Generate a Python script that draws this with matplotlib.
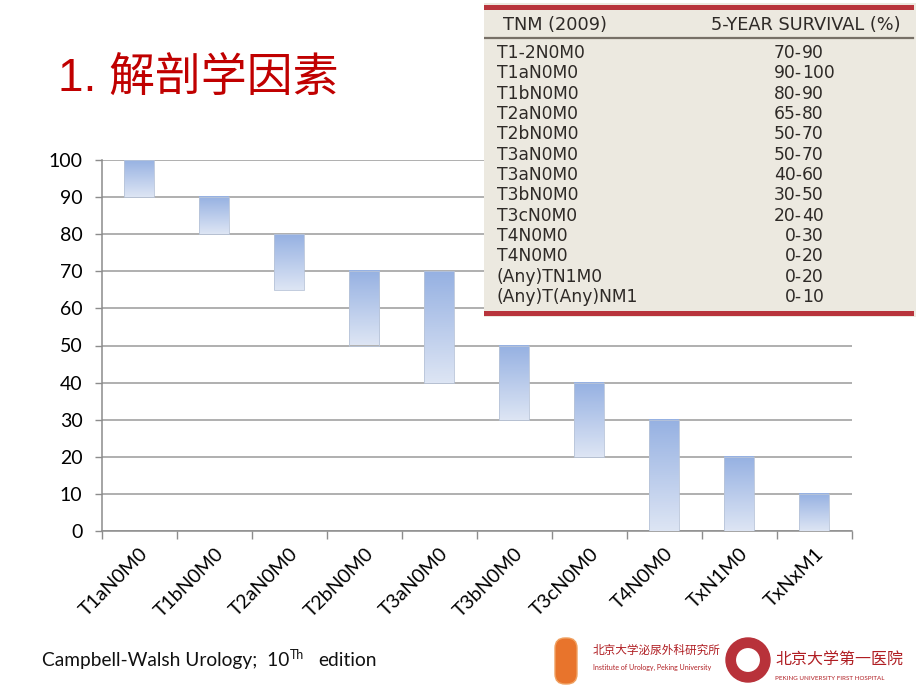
"""Slide: 1. 解剖学因素 -- floating 5-year survival ranges by TNM stage."""

import matplotlib

matplotlib.use("Agg")

import matplotlib.pyplot as plt
import numpy as np
from matplotlib.patches import Circle, FancyBboxPatch, Rectangle

plt.rcParams["font.family"] = ["Lato", "Noto Sans CJK SC", "DejaVu Sans"]

W, H = 920, 690

# chart data (5-year survival range, %)
stages = ["T1aN0M0", "T1bN0M0", "T2aN0M0", "T2bN0M0", "T3aN0M0",
          "T3bN0M0", "T3cN0M0", "T4N0M0", "TxN1M0", "TxNxM1"]
surv_low = [90, 80, 65, 50, 40, 30, 20, 0, 0, 0]
surv_high = [100, 90, 80, 70, 70, 50, 40, 30, 20, 10]
y_ticks = list(range(0, 101, 10))

# table data (Campbell-Walsh)
table_stage = ["T1-2N0M0", "T1aN0M0", "T1bN0M0", "T2aN0M0", "T2bN0M0",
               "T3aN0M0", "T3aN0M0", "T3bN0M0", "T3cN0M0", "T4N0M0",
               "T4N0M0", "(Any)TN1M0", "(Any)T(Any)NM1"]
table_surv = ["70-90", "90-100", "80-90", "65-80", "50-70", "50-70",
              "40-60", "30-50", "20-40", "0-30", "0-20", "0-20", "0-10"]


def px(x, y):
    """pixel (top-left origin) -> figure fraction"""
    return x / W, 1 - y / H


fig = plt.figure(figsize=(W / 100, H / 100), dpi=100)

# ---------------------------------------------------------------------------
# title
# ---------------------------------------------------------------------------
fig.text(*px(58, 79), "1. 解剖学因素", fontsize=33, color="#c00000",
         family=["Liberation Sans", "Noto Sans CJK SC"], va="center",
         ha="left")

# ---------------------------------------------------------------------------
# floating bar chart
# ---------------------------------------------------------------------------
ax = fig.add_axes([102 / W, 1 - 531 / H, 750 / W, 371 / H])
grad = np.linspace(0, 1, 64).reshape(-1, 1)
cmap = matplotlib.colors.LinearSegmentedColormap.from_list(
    "bar", ["#dde5f4", "#96b1e2"])
bar_w = 0.4
for i, (lo, hi) in enumerate(zip(surv_low, surv_high)):
    ax.imshow(grad, extent=[i - bar_w / 2, i + bar_w / 2, lo, hi],
              origin="lower", aspect="auto", cmap=cmap, zorder=3)
    ax.add_patch(Rectangle((i - bar_w / 2, lo), bar_w, hi - lo, fill=False,
                           ec="#b8c4d8", lw=0.6, zorder=4))

ax.set_xlim(-0.5, len(stages) - 0.5)
ax.set_ylim(0, 100)
ax.set_yticks(y_ticks)
ax.tick_params(axis="y", labelsize=14, length=5, color="#8c8c8c",
               width=1, pad=9)
ax.yaxis.grid(True, color="#9a9a9a", lw=1.1, zorder=1)
ax.set_axisbelow(True)

ax.set_xticks(np.arange(-0.5, len(stages)), minor=False)
ax.set_xticklabels([])
ax.set_xticks(np.arange(len(stages)), minor=True)
ax.set_xticklabels(stages, minor=True, rotation=45, ha="right",
                   rotation_mode="anchor", fontsize=14)
ax.tick_params(axis="x", which="major", length=6, color="#8c8c8c", width=1)
ax.tick_params(axis="x", which="minor", length=0, pad=10)

for side in ("top", "right"):
    ax.spines[side].set_visible(False)
ax.spines["left"].set_color("#8c8c8c")
ax.spines["bottom"].set_color("#8c8c8c")
ax.spines["left"].set_linewidth(1.1)
ax.spines["bottom"].set_linewidth(1.1)

# ---------------------------------------------------------------------------
# table image overlay (top right)
# ---------------------------------------------------------------------------
tx0, ty0, tx1, ty1 = 484, 3, 916, 317
tab = fig.add_axes([tx0 / W, 1 - ty1 / H, (tx1 - tx0) / W, (ty1 - ty0) / H],
                   zorder=5)
tab.set_xlim(tx0, tx1)
tab.set_ylim(ty1, ty0)
tab.axis("off")
tab.add_patch(Rectangle((tx0, ty0), tx1 - tx0, ty1 - ty0, fc="#ece9e0",
                        ec="none", zorder=0))
tab.add_patch(Rectangle((tx0, 5), 430, 5, fc="#b8343c", ec="none"))
tab.add_patch(Rectangle((tx0, 311), 430, 5, fc="#b8343c", ec="none"))
tab.plot([tx0, 913], [38, 38], color="#777067", lw=1.6)

tfont = dict(family=["DejaVu Sans"], color="#2e2a27", fontsize=12.3,
             va="center")
hfont = dict(tfont, fontsize=12.8)
tab.text(503, 25, "TNM (2009)", **hfont)
tab.text(901, 25, "5-YEAR SURVIVAL (%)", ha="right", **hfont)
row_y = np.linspace(53, 297, len(table_stage))
for yy, st, sv in zip(row_y, table_stage, table_surv):
    tab.text(497, yy, st, **tfont)
    a, b = sv.split("-")
    tab.text(802, yy, a + "-", ha="right", **tfont)
    tab.text(802, yy, b, ha="left", **tfont)

# ---------------------------------------------------------------------------
# footnote
# ---------------------------------------------------------------------------
fig.text(*px(42, 666), "Campbell-Walsh Urology;  10", fontsize=13.8,
         va="baseline", color="#111111")
fig.text(*px(290, 659), "Th", fontsize=9, va="baseline", color="#111111")
fig.text(*px(318, 666), "edition", fontsize=13.8, va="baseline",
         color="#111111")

# ---------------------------------------------------------------------------
# institution logos (approximated)
# ---------------------------------------------------------------------------
logo = fig.add_axes([0, 0, 1, 1], zorder=6)
logo.set_xlim(0, W)
logo.set_ylim(H, 0)
logo.axis("off")
logo.add_patch(FancyBboxPatch((555, 638), 22, 46,
                              boxstyle="round,pad=0,rounding_size=10",
                              fc="#e8742c", ec="#f0a060", lw=1))
logo.text(593, 650, "北京大学泌尿外科研究所", fontsize=8.4, color="#b01e23",
          family=["Noto Sans CJK SC"], va="center")
logo.text(593, 667, "Institute of Urology, Peking University", fontsize=5,
          color="#b01e23", va="center")
logo.add_patch(Circle((748, 660), 22, fc="#b8323a", ec="#b8323a"))
logo.add_patch(Circle((748, 660), 13, fc="white", ec="#b8323a", lw=1.5))
logo.text(775, 659, "北京大学第一医院", fontsize=11.5, color="#b01e23",
          family=["Noto Sans CJK SC"], va="center")
logo.text(775, 678, "PEKING UNIVERSITY FIRST HOSPITAL", fontsize=4.5,
          color="#b01e23", va="center")

fig.savefig("out.png", dpi=100)
